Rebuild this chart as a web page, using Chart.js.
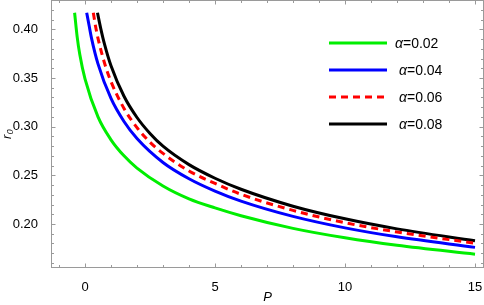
<!DOCTYPE html>
<html><head><meta charset="utf-8">
<script src="https://cdn.jsdelivr.net/npm/chart.js@4.4.0/dist/chart.umd.min.js"></script>
<style>html,body{margin:0;padding:0;background:#fff;}canvas{display:block}</style>
</head><body>
<canvas id="c" width="484" height="305"></canvas>
<script>
// ---- data ----
const seriesLabels = ['0.02', '0.04', '0.06', '0.08'];
const pGreen = [-0.4, -0.3, -0.2, 0, 0.5, 1, 1.5, 2, 3, 4, 5, 6, 8, 10, 12, 15];
const rGreen = [0.417, 0.392, 0.374, 0.349, 0.310, 0.2865, 0.270, 0.2574, 0.239, 0.2258, 0.2165, 0.2085, 0.1955, 0.1858, 0.1781, 0.169];
const pBlue = [0.065, 0.15, 0.25, 0.5, 1, 1.5, 2, 3, 4, 5, 6, 8, 10, 12, 15];
const rBlue = [0.417, 0.405, 0.391, 0.3645, 0.329, 0.3053, 0.2878, 0.2632, 0.2465, 0.2338, 0.2235, 0.2078, 0.196, 0.1868, 0.176];
const pRed = [0.32, 0.4, 0.5, 0.75, 1, 1.5, 2, 2.5, 3, 4, 5, 6, 8, 10, 12, 15];
const rRed = [0.417, 0.404, 0.3907, 0.3654, 0.3463, 0.3187, 0.299, 0.284, 0.2725, 0.2545, 0.2417, 0.2305, 0.2140, 0.2013, 0.1918, 0.1802];
const pBlack = [0.48, 0.6, 0.75, 1, 1.5, 2, 2.5, 3, 4, 5, 6, 8, 10, 12, 15];
const rBlack = [0.417, 0.4015, 0.3847, 0.3625, 0.3312, 0.3094, 0.293, 0.2799, 0.261, 0.2470, 0.2357, 0.2183, 0.2053, 0.1950, 0.1828];
const xMajor = [0, 5, 10, 15];
const yMajor = [0.20, 0.25, 0.30, 0.35, 0.40];

const pts = (px, py) => px.map((x, i) => ({x, y: py[i]}));
const FONT = "'Liberation Sans', Arial, sans-serif";
const frameColor = '#9a9a9a';

const framePlugin = {
  id: 'frame',
  beforeDatasetsDraw(chart) {
    const {ctx, chartArea: a, scales: {x, y}} = chart;
    ctx.save();
    ctx.strokeStyle = frameColor;
    ctx.lineWidth = 1;
    const L = a.left + 0.5, R = a.right - 0.5, T = a.top + 0.5, B = a.bottom - 0.5;
    ctx.strokeRect(L, T, R - L, B - T);
    ctx.beginPath();
    for (let v = -1; v <= 15; v++) {
      const len = xMajor.includes(v) ? 4 : 2.5;
      const px = Math.round(x.getPixelForValue(v)) + 0.5;
      ctx.moveTo(px, B); ctx.lineTo(px, B - len);
      ctx.moveTo(px, T); ctx.lineTo(px, T + len);
    }
    for (let k = 16; k <= 42; k++) {
      const v = k / 100;
      const len = (k % 5 === 0) ? 4 : 2.5;
      const py = Math.round(y.getPixelForValue(v)) + 0.5;
      ctx.moveTo(L, py); ctx.lineTo(L + len, py);
      ctx.moveTo(R, py); ctx.lineTo(R - len, py);
    }
    ctx.stroke();
    ctx.restore();
  },
  afterDraw(chart) {
    const {ctx} = chart;
    ctx.save();
    const rows = [43, 70, 97, 124];
    const textX = [395, 399, 399, 399];
    chart.data.datasets.forEach((ds, i) => {
      ctx.beginPath();
      ctx.strokeStyle = ds.borderColor;
      ctx.lineWidth = ds.borderWidth;
      ctx.setLineDash(ds.borderDash || []);
      ctx.moveTo(329, rows[i]); ctx.lineTo(387, rows[i]);
      ctx.stroke();
      ctx.setLineDash([]);
      ctx.fillStyle = '#000';
      ctx.textBaseline = 'middle';
      ctx.font = 'italic 14px ' + FONT;
      ctx.fillText('α', textX[i], rows[i] + 1);
      const w = ctx.measureText('α').width;
      ctx.font = '14px ' + FONT;
      ctx.fillText('=' + seriesLabels[i], textX[i] + w, rows[i] + 1);
    });
    ctx.restore();
  }
};

const mk = (data, color, dash, label) => ({
  label: 'α=' + label, data, borderColor: color, borderWidth: 3, borderDash: dash,
  pointRadius: 0, fill: false, cubicInterpolationMode: 'monotone'
});

new Chart(document.getElementById('c'), {
  type: 'line',
  data: {
    datasets: [
      mk(pts(pGreen, rGreen), '#00ee00', [], seriesLabels[0]),
      mk(pts(pBlue, rBlue), '#0000ff', [], seriesLabels[1]),
      mk(pts(pRed, rRed), '#ff0000', [7, 5], seriesLabels[2]),
      mk(pts(pBlack, rBlack), '#000000', [], seriesLabels[3])
    ]
  },
  options: {
    responsive: false, animation: false, devicePixelRatio: 1,
    layout: {padding: 0},
    plugins: {legend: {display: false}, tooltip: {enabled: false}},
    scales: {
      x: {
        type: 'linear', min: -1.3077, max: 15.346,
        grid: {display: false}, border: {display: false},
        ticks: {stepSize: 5, includeBounds: false, color: '#000', font: {family: FONT, size: 13}, padding: 4, maxRotation: 0},
        title: {display: true, text: 'P', color: '#000', font: {family: FONT, size: 13, style: 'italic'}, padding: {top: 0, bottom: 0}},
        afterFit: s => { s.height = 37; s.paddingLeft = 0; s.paddingRight = 0; }
      },
      y: {
        type: 'linear', min: 0.1548, max: 0.4301,
        grid: {display: false}, border: {display: false},
        ticks: {stepSize: 0.05, includeBounds: false, color: '#000', font: {family: FONT, size: 13}, padding: 5,
          callback: v => v.toFixed(2)},
        title: {display: true, text: 'r₀', color: '#000', font: {family: FONT, size: 13, style: 'italic'}, padding: {top: 0, bottom: 0}},
        afterFit: s => { s.width = 51; s.paddingTop = 0; s.paddingBottom = 0; }
      }
    }
  },
  plugins: [framePlugin]
});
</script>
</body></html>
